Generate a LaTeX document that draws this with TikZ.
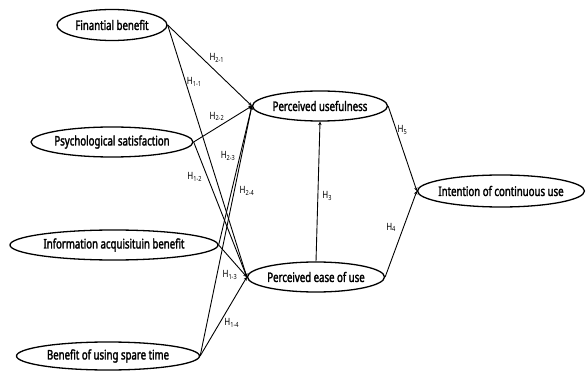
\documentclass[tikz,border=0pt]{standalone}
\usepackage{fontspec}
\setmainfont[FakeStretch=0.8, BoldFont={Noto Sans}, BoldFeatures={FakeBold=2, FakeStretch=0.73}]{Noto Sans}
\usetikzlibrary{shapes.geometric,arrows.meta}

\begin{document}
\begin{tikzpicture}[
  x=1pt, y=-1pt,
  factor/.style={ellipse, draw, line width=1.3pt, inner sep=0pt, minimum height=30pt, font=\fontsize{13.2}{15}\selectfont\bfseries},
  hyp/.style={inner sep=1pt, font=\fontsize{10}{11}\selectfont},
  link/.style={-{Stealth[length=3.5pt,width=3.5pt]}, line width=0.9pt}
]
\useasboundingbox (0,0) rectangle (586,374);

\node[factor, minimum width=110pt, minimum height=31pt] (finben) at (112,25) {\makebox[0pt]{Finantial benefit}};
\node[factor, minimum width=162pt] (psysat) at (112,142) {\makebox[0pt]{Psychological satisfaction}};
\node[factor, minimum width=208pt] (infoacq) at (114,245) {\makebox[0pt]{Information acquisituin benefit}};
\node[factor, minimum width=183pt, minimum height=28pt] (sparetime) at (108,356) {\makebox[0pt]{Benefit of using spare time}};

\node[factor, minimum width=135pt] (useful) at (320,106) {\makebox[0pt]{Perceived usefulness}};
\node[factor, minimum width=137pt] (easeuse) at (316,277) {\makebox[0pt]{Perceived ease of use}};
\node[factor, minimum width=167pt, minimum height=32pt] (intention) at (501,191) {\makebox[0pt]{Intention of continuous use}};

\draw[link] (finben.east) -- node[hyp, pos=0.48, above right] (h21) {H\textsubscript{2-1}} (useful.west);
\draw[link] (finben.east) -- node[hyp, pos=0.225, right] (h11) {H\textsubscript{1-1}} (easeuse.west);
\draw[link] (psysat.east) -- node[hyp, pos=0.55, above left] (h22) {H\textsubscript{2-2}} (useful.west);
\draw[link] (psysat.east) -- node[hyp, pos=0.26, left=4pt] (h12) {H\textsubscript{1-2}} (easeuse.west);
\draw[link] (infoacq.east) -- node[hyp, pos=0.64, left=3pt] (h23) {H\textsubscript{2-3}} (useful.west);
\draw[link] (infoacq.east) -- node[hyp, pos=0.4, below=11pt] (h13) {H\textsubscript{1-3}} (easeuse.west);
\draw[link] (sparetime.east) -- node[hyp, pos=0.66, right=4pt] (h24) {H\textsubscript{2-4}} (useful.west);
\draw[link] (sparetime.east) -- node[hyp, pos=0.49, below right] (h14) {H\textsubscript{1-4}} (easeuse.west);

\draw[link] (easeuse.north) -- node[hyp, pos=0.47, right=3pt] (h3) {H\textsubscript{3}} (useful.south);
\draw[link] (useful.east) -- node[hyp, pos=0.28, right] (h5) {H\textsubscript{5}} (intention.west);
\draw[link] (easeuse.east) -- node[hyp, pos=0.575, left=6pt] (h4) {H\textsubscript{4}} (intention.west);
\end{tikzpicture}
\end{document}
